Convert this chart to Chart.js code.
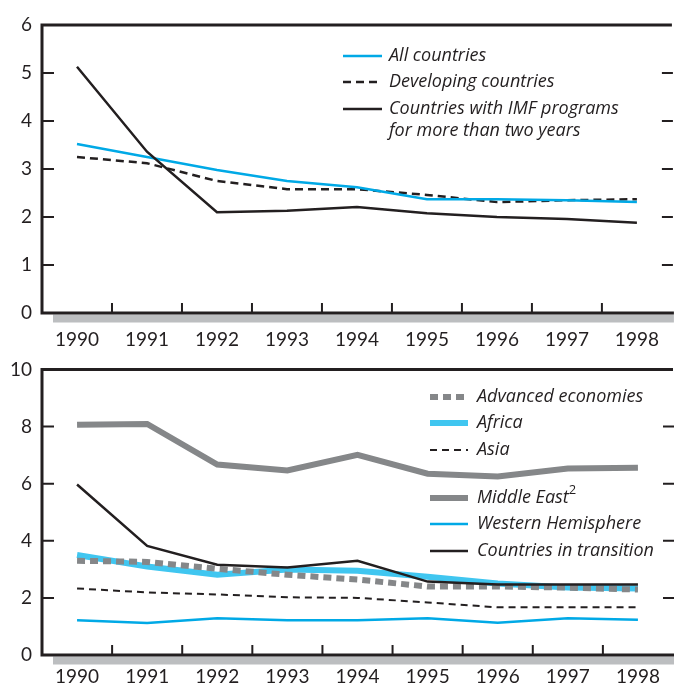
<!doctype html>
<html lang="en">
<head>
<meta charset="UTF-8" />
<title>IMF chart</title>
<style>
  body { margin: 0; background: #fff; }
  canvas { position: absolute; left: 0; }
  #topChart { top: 0; }
  #bottomChart { top: 348px; }
</style>
</head>
<body>
<canvas id="topChart" width="674" height="348"></canvas>
<canvas id="bottomChart" width="674" height="339"></canvas>

<script src="https://cdn.jsdelivr.net/npm/chart.js@4.4.1/dist/chart.umd.min.js"></script>
<script>
const years = ["1990", "1991", "1992", "1993", "1994", "1995", "1996", "1997", "1998"];

// top panel
const allCountries = [3.52, 3.25, 2.98, 2.75, 2.62, 2.37, 2.37, 2.35, 2.31];
const developing = [3.25, 3.12, 2.75, 2.58, 2.58, 2.46, 2.31, 2.35, 2.37];
const imfPrograms = [5.13, 3.36, 2.10, 2.13, 2.21, 2.08, 2.00, 1.96, 1.88];

// bottom panel
const advanced = [3.30, 3.26, 3.02, 2.81, 2.64, 2.40, 2.40, 2.36, 2.29];
const africa = [3.50, 3.10, 2.81, 2.99, 2.95, 2.74, 2.50, 2.36, 2.33];
const asia = [2.33, 2.19, 2.12, 2.02, 2.00, 1.84, 1.67, 1.67, 1.67];
const middleEast = [8.06, 8.09, 6.67, 6.46, 7.01, 6.35, 6.25, 6.53, 6.56];
const westHemisphere = [1.22, 1.12, 1.29, 1.22, 1.22, 1.29, 1.13, 1.29, 1.23];
const transition = [5.97, 3.82, 3.16, 3.06, 3.30, 2.57, 2.47, 2.47, 2.47];

const INK = "#231f20";
const CYAN = "#00a9e6";
const LIGHT_CYAN = "#40c6f0";
const GREY = "#858789";
const FONT = "Lato, 'Open Sans', sans-serif";
const LEGEND_FONT = "'Open Sans', Lato, sans-serif";

// frame, inward ticks, grey band under the axis, and the legend box
const framePlugin = {
    id: "frame",
    afterDatasetsDraw(chart, args, opts) {
        const ctx = chart.ctx;
        const a = chart.chartArea;
        const xs = chart.scales.x;
        const ys = chart.scales.y;
        ctx.save();

        // grey band
        ctx.fillStyle = "#bcbec0";
        ctx.fillRect(53, a.bottom + 1.5, a.right - 53 + 2, 8);

        // frame
        ctx.strokeStyle = INK;
        ctx.lineWidth = 3;
        ctx.setLineDash([]);
        ctx.beginPath();
        ctx.moveTo(a.left, a.top);
        ctx.lineTo(a.right, a.top);
        ctx.moveTo(a.left, a.top - 1.5);
        ctx.lineTo(a.left, a.bottom + 1.5);
        ctx.moveTo(a.left, a.bottom);
        ctx.lineTo(a.right + 2, a.bottom);
        ctx.stroke();

        // y ticks on both sides
        ctx.lineWidth = 2;
        ctx.beginPath();
        ys.ticks.forEach((t) => {
            if (t.value === ys.min || t.value === ys.max) return;
            const py = ys.getPixelForValue(t.value);
            ctx.moveTo(a.left, py);
            ctx.lineTo(a.left + 12, py);
            ctx.moveTo(a.right + 1, py);
            ctx.lineTo(a.right - 10, py);
        });
        // x ticks at category boundaries
        for (let i = 1; i < years.length; i++) {
            const px = (xs.getPixelForValue(i - 1) + xs.getPixelForValue(i)) / 2;
            ctx.moveTo(px, a.bottom);
            ctx.lineTo(px, a.bottom - 10);
        }
        ctx.stroke();

        // legend
        const ds = chart.data.datasets;
        opts.items.forEach((item) => {
            const d = ds[item.ds];
            ctx.strokeStyle = d.borderColor;
            ctx.lineWidth = d.borderWidth;
            ctx.lineCap = "butt";
            ctx.setLineDash(d.borderDash || []);
            ctx.beginPath();
            ctx.moveTo(opts.x0, item.y);
            ctx.lineTo(opts.x1, item.y);
            ctx.stroke();
            ctx.setLineDash([]);

            ctx.fillStyle = INK;
            ctx.font = "italic 18px " + LEGEND_FONT;
            ctx.textBaseline = "middle";
            ctx.textAlign = "left";
            const lines = item.lines || [d.label];
            lines.forEach((ln, k) => {
                ctx.fillText(ln, opts.tx, item.y + k * 22);
            });
            if (item.sup) {
                const w = ctx.measureText(lines[0]).width;
                ctx.font = "13px " + LEGEND_FONT;
                ctx.fillText(item.sup, opts.tx + w, item.y - 8);
            }
        });
        ctx.restore();
    },
};

function lineSet(label, data, color, width, dash, order) {
    return {
        label: label,
        data: data,
        borderColor: color,
        backgroundColor: color,
        borderWidth: width,
        borderDash: dash,
        borderCapStyle: "butt",
        borderJoinStyle: "miter",
        pointRadius: 0,
        tension: 0,
        fill: false,
        order: order,
    };
}

function makeOptions(yMax, step, padTop, xHeight, xPad, legend) {
    return {
        responsive: false,
        animation: false,
        events: [],
        layout: { padding: { top: padTop, right: 1, left: 0, bottom: 0 } },
        plugins: {
            legend: { display: false },
            tooltip: { enabled: false },
            frame: legend,
        },
        scales: {
            x: {
                type: "category",
                offset: true,
                grid: { display: false, drawTicks: false },
                border: { display: false },
                ticks: {
                    color: INK,
                    font: { family: FONT, size: 19 },
                    padding: xPad,
                    maxRotation: 0,
                    autoSkip: false,
                },
                afterFit(s) { s.height = xHeight; },
            },
            y: {
                min: 0,
                max: yMax,
                grid: { display: false, drawTicks: false },
                border: { display: false },
                ticks: {
                    stepSize: step,
                    color: INK,
                    font: { family: FONT, size: 19 },
                    padding: 10,
                },
                afterFit(s) { s.width = 42; },
            },
        },
    };
}

new Chart(document.getElementById("topChart"), {
    type: "line",
    data: {
        labels: years,
        datasets: [
            lineSet("All countries", allCountries, CYAN, 2.5, [], 1),
            lineSet("Developing countries", developing, INK, 2.5, [8, 5], 2),
            lineSet("Countries with IMF programs for more than two years", imfPrograms, INK, 2.5, [], 0),
        ],
    },
    options: makeOptions(6, 1, 25, 35, 15, {
        x0: 343, x1: 382, tx: 389,
        items: [
            { ds: 0, y: 56 },
            { ds: 1, y: 82 },
            { ds: 2, y: 109, lines: ["Countries with IMF programs", "for more than two years"] },
        ],
    }),
    plugins: [framePlugin],
});

new Chart(document.getElementById("bottomChart"), {
    type: "line",
    data: {
        labels: years,
        datasets: [
            lineSet("Advanced economies", advanced, GREY, 6, [8, 5], 2),
            lineSet("Africa", africa, LIGHT_CYAN, 6, [], 3),
            lineSet("Asia", asia, INK, 2, [7, 5], 1),
            lineSet("Middle East", middleEast, GREY, 6, [], 4),
            lineSet("Western Hemisphere", westHemisphere, CYAN, 2.5, [], 1),
            lineSet("Countries in transition", transition, INK, 2.5, [], 0),
        ],
    },
    options: makeOptions(10, 2, 19, 32, 10, {
        x0: 430, x1: 468, tx: 477,
        items: [
            { ds: 0, y: 49 },
            { ds: 1, y: 75 },
            { ds: 2, y: 102 },
            { ds: 3, y: 150, sup: "2" },
            { ds: 4, y: 176 },
            { ds: 5, y: 203 },
        ],
    }),
    plugins: [framePlugin],
});
</script>
</body>
</html>
